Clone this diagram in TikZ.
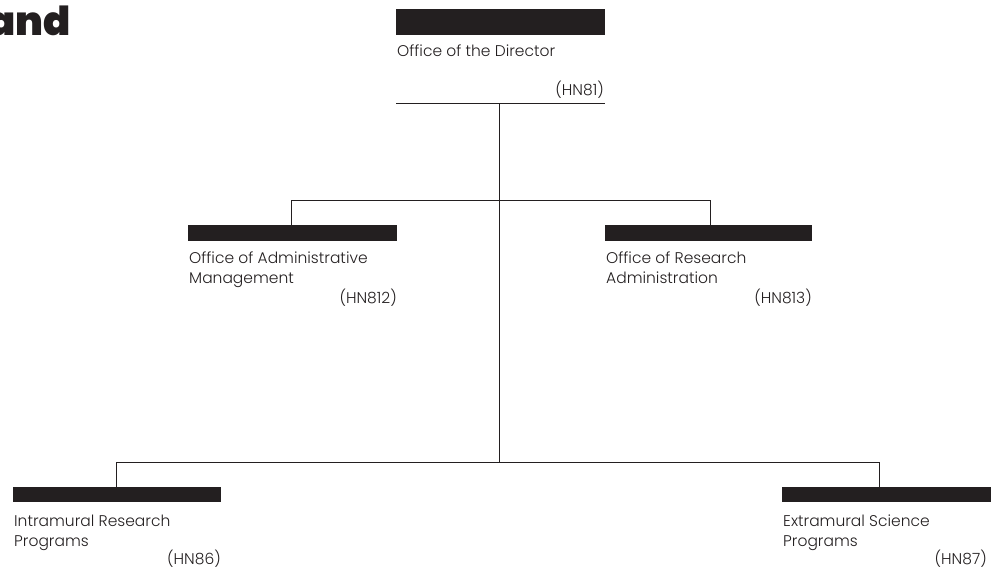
\documentclass[tikz,border=0pt]{standalone}
\usepackage{fontspec}
\setmainfont{Poppins Light}
\newfontfamily\heavyfont{Poppins Black}
\definecolor{ink}{HTML}{231F20}
\tikzset{
  bar/.style={fill=ink, draw=none},
  conn/.style={draw=ink, line width=1pt},
  lbl/.style={anchor=base west, inner sep=0pt, text=ink, font=\fontsize{15.5}{18}\selectfont},
  code/.style={anchor=base east, inner sep=0pt, text=ink, font=\fontsize{15.5}{18}\selectfont},
}
\begin{document}
\begin{tikzpicture}[x=1pt,y=-1pt]
\useasboundingbox (0,0) rectangle (991,569);
% title fragment
\node[anchor=base east, inner sep=0pt, text=ink, font=\heavyfont\fontsize{40}{42}\selectfont] (title) at (71,36) {and};
% director
\path[bar] (396,9) rectangle (605,35);
\node[lbl] (dirname) at (397,57) {Office of the Director};
\node[code] (dircode) at (604,96) {(HN81)};
\coordinate (dirL) at (396,104);
\coordinate (dirR) at (605,104);
\coordinate (dirM) at (499,104);
\draw[conn] (dirL) -- (dirR);
% level 2
\coordinate (midB) at (499,462);
\coordinate (amTop) at (291,225);
\coordinate (raTop) at (710,225);
\coordinate (amJ) at (291,201);
\coordinate (raJ) at (710,201);
\path[bar] (188,225) rectangle (397,241);
\path[bar] (605,225) rectangle (812,241);
\node[lbl] (am1) at (189,264) {Office of Administrative};
\node[lbl] (am2) at (189,284) {Management};
\node[code] (amc) at (397,304) {(HN812)};
\node[lbl] (ra1) at (606,264) {Office of Research};
\node[lbl] (ra2) at (606,284) {Administration};
\node[code] (rac) at (812,304) {(HN813)};
% level 3
\coordinate (irJ) at (116,462);
\coordinate (esJ) at (879,462);
\coordinate (irTop) at (116,487);
\coordinate (esTop) at (879,487);
\path[bar] (13,487) rectangle (221,502);
\path[bar] (782,487) rectangle (991,502);
\node[lbl] (ir1) at (14,526) {Intramural Research};
\node[lbl] (ir2) at (14,546) {Programs};
\node[code] (irc) at (221,564) {(HN86)};
\node[lbl] (es1) at (783,526) {Extramural Science};
\node[lbl] (es2) at (783,546) {Programs};
\node[code] (esc) at (987,564) {(HN87)};
% connectors
\draw[conn] (dirM) -- (midB);
\draw[conn] (amTop) -- (amJ) -- (raJ) -- (raTop);
\draw[conn] (irTop) -- (irJ) -- (esJ) -- (esTop);
\end{tikzpicture}
\end{document}
